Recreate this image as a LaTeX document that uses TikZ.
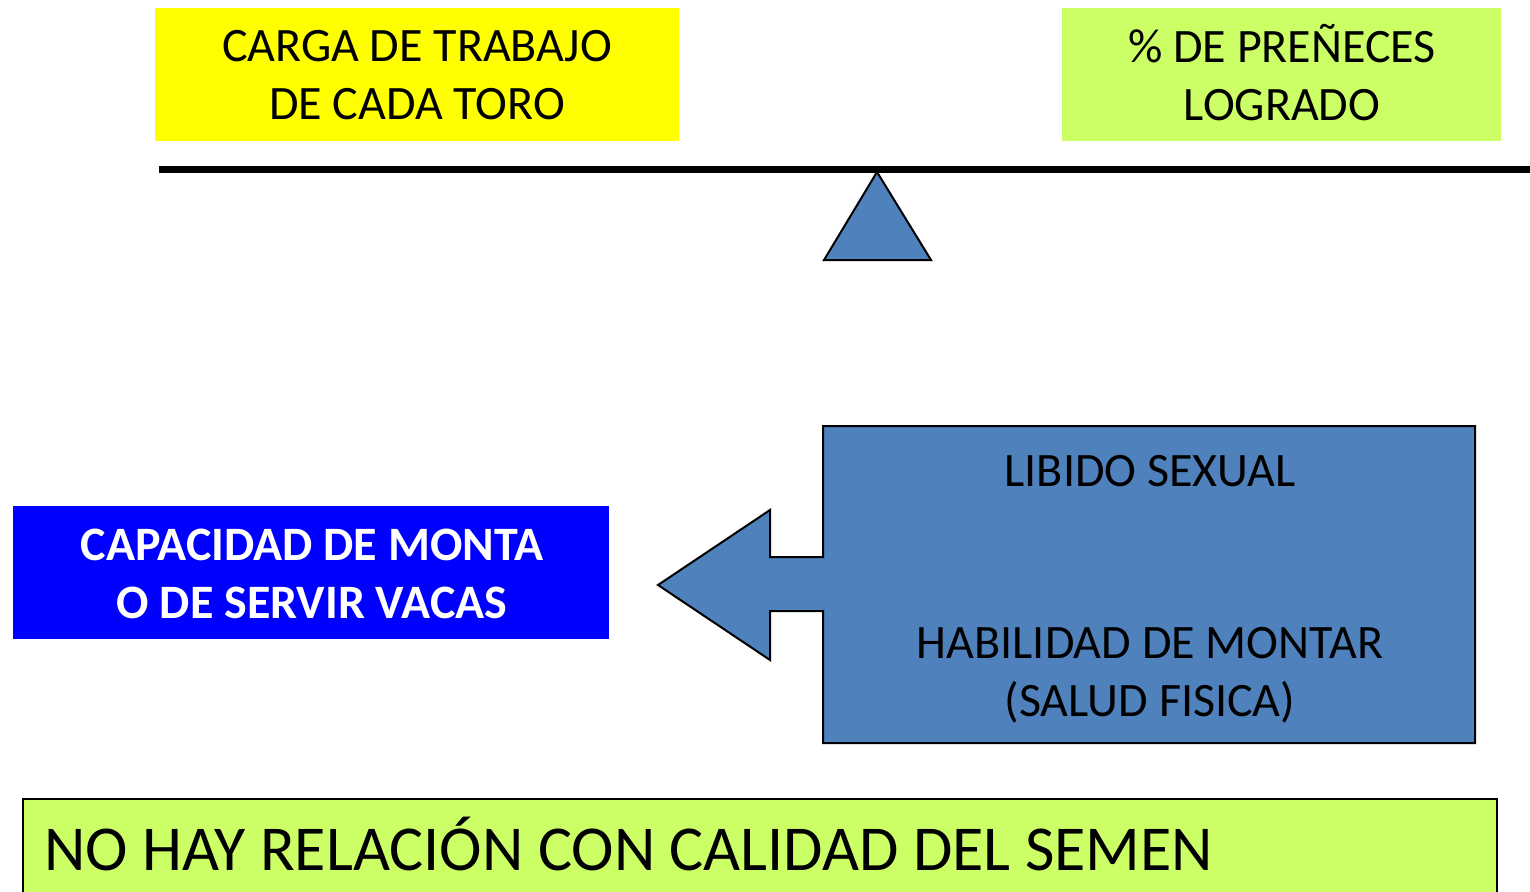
\documentclass[tikz,border=0pt]{standalone}
\usepackage{fontspec}
\setmainfont{Carlito}
\definecolor{topyellow}{HTML}{FFFF00}
\definecolor{limegreen}{HTML}{CCFF66}
\definecolor{steel}{HTML}{4F81BD}
\definecolor{pureblue}{HTML}{0000FF}
\begin{document}
\begin{tikzpicture}[x=1pt,y=-1pt,
  txt/.style={font=\fontsize{48}{58}\selectfont, align=center, inner sep=0pt},
  box/.style={inner sep=0pt, outer sep=0pt}]
\useasboundingbox (0,0) rectangle (1530,891);
% top boxes
\fill[topyellow] (155,8) rectangle (679,141);
\node[txt] (carga) at (417,75) {CARGA DE TRABAJO\\DE CADA TORO};
\fill[limegreen] (1062,8) rectangle (1501,141);
\node[txt] (pren) at (1282,72.5) {\% DE PREÑECES\\LOGRADO};
% beam and fulcrum
\draw[line width=7pt] (159,169) -- (1530,169);
\draw[fill=steel, line width=2pt, line join=miter] (877,172) -- (931,260) -- (824,260) -- cycle;
% blue box
\fill[pureblue] (13,506) rectangle (609,639);
\node[txt, text=white, font=\fontsize{48}{58}\selectfont\bfseries] (cap) at (312,574) {CAPACIDAD DE MONTA\\O DE SERVIR VACAS};
% arrow shape
\draw[fill=steel, line width=2pt, line join=miter]
  (823,426) -- (1475,426) -- (1475,743) -- (823,743) -- (823,611) -- (770,611)
  -- (770,660) -- (658,585) -- (770,510) -- (770,557) -- (823,557) -- cycle;
\node[txt] (libido) at (1150,471) {LIBIDO SEXUAL};
\node[txt] (habil) at (1150,675) {HABILIDAD DE MONTAR\\(SALUD FISICA)};
% bottom box
\draw[fill=limegreen, line width=2pt] (23,799) rectangle (1497,895);
\node[font=\fontsize{64}{78}\selectfont, anchor=base west, inner sep=0pt] (nohay) at (44,870) {NO HAY RELACIÓN CON CALIDAD DEL SEMEN};
\end{tikzpicture}
\end{document}
